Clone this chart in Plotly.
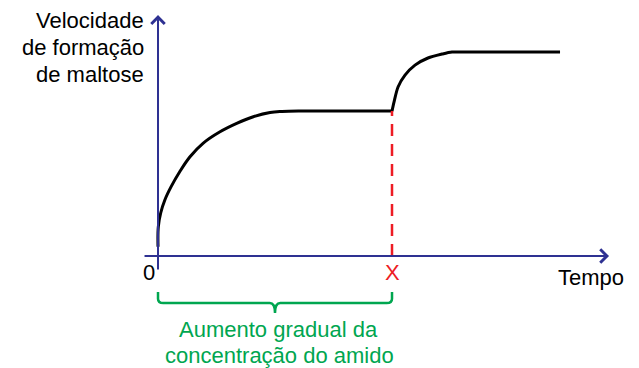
import plotly.graph_objects as go

# curve (time units, velocity units; X = 4, first plateau = 1)
tempo_1 = [0, 0.005, 0.046, 0.12, 0.222, 0.376, 0.547, 0.774, 1.06, 1.345, 1.629, 1.915, 2.12, 2.4, 3.96, 4.0]
veloc_1 = [0.064, 0.202, 0.297, 0.39, 0.477, 0.585, 0.685, 0.779, 0.857, 0.915, 0.961, 0.99, 0.997, 1.0, 1.0, 1.0]
tempo_2 = [4.0, 4.034, 4.103, 4.222, 4.393, 4.615, 4.855, 5.026, 5.248, 6.872]
veloc_2 = [1.0, 1.062, 1.166, 1.248, 1.317, 1.366, 1.393, 1.407, 1.407, 1.407]
ponto_x = 4.0
titulo_y = ["Velocidade", "de formação", "de maltose"]
legenda = ["Aumento gradual da", "concentração do amido"]

AZUL = "#2e3192"
VERM = "#ed1c24"
VERDE = "#00a650"
FONTE = "Liberation Sans, Arial, sans-serif"

fig = go.Figure()
fig.add_trace(go.Scatter(x=tempo_1, y=veloc_1, mode="lines",
                         line=dict(color="black", width=3, shape="spline", smoothing=1)))
fig.add_trace(go.Scatter(x=tempo_2, y=veloc_2, mode="lines",
                         line=dict(color="black", width=3, shape="spline", smoothing=0.8)))
fig.add_trace(go.Scatter(x=[ponto_x, ponto_x], y=[0, 1.0], mode="lines",
                         line=dict(color=VERM, width=2.5, dash="12px,8px")))

# axes as arrows
fig.add_annotation(x=0, y=1.662, ax=0, ay=-0.103, xref="x", yref="y", axref="x", ayref="y",
                   showarrow=True, arrowhead=4, arrowsize=1.3, arrowwidth=2, arrowcolor=AZUL, text="")
fig.add_annotation(x=7.71, y=0, ax=-0.256, ay=0, xref="x", yref="y", axref="x", ayref="y",
                   showarrow=True, arrowhead=4, arrowsize=1.3, arrowwidth=2, arrowcolor=AZUL, text="")

# brace under 0..X
y0, y1, y2 = -0.248, -0.324, -0.393
r = 0.09
m = ponto_x / 2
fig.add_shape(type="path", xref="x", yref="y", line=dict(color=VERDE, width=2.5),
              path=(f"M0,{y0} L0,{y1 + 0.03} Q0,{y1} {r},{y1} L{m - r},{y1} Q{m},{y1} {m},{y2} "
                    f"Q{m},{y1} {m + r},{y1} L{ponto_x - r},{y1} Q{ponto_x},{y1} {ponto_x},{y1 + 0.03} "
                    f"L{ponto_x},{y0}"))

txt = dict(showarrow=False, xref="x", yref="y", font=dict(family=FONTE, size=22))
for linha, yy in zip(titulo_y, [1.627, 1.439, 1.253]):
    fig.add_annotation(x=-0.205, y=yy, text=linha, xanchor="right", **txt)
fig.add_annotation(x=-0.162, y=-0.11, text="0", **txt)
fig.add_annotation(x=ponto_x, y=-0.11, text="<span style='color:%s'>X</span>" % VERM, **txt)
fig.add_annotation(x=7.40, y=-0.145, text="Tempo", **txt)
for linha, xx, yy in zip(legenda, [2.06, 2.085], [-0.506, -0.685]):
    fig.add_annotation(x=xx, y=yy, text=linha,
                       **{**txt, "font": dict(family=FONTE, size=22, color=VERDE)})

fig.update_layout(width=639, height=368, margin=dict(l=0, r=0, t=0, b=0),
                  paper_bgcolor="white", plot_bgcolor="white", showlegend=False,
                  font=dict(family=FONTE, color="black"))
fig.update_xaxes(range=[-2.701, 8.222], visible=False)
fig.update_yaxes(range=[-0.772, 1.766], visible=False)

fig.write_html("out.html", config={"displayModeBar": False},
               post_script="document.body.style.margin='0';")
